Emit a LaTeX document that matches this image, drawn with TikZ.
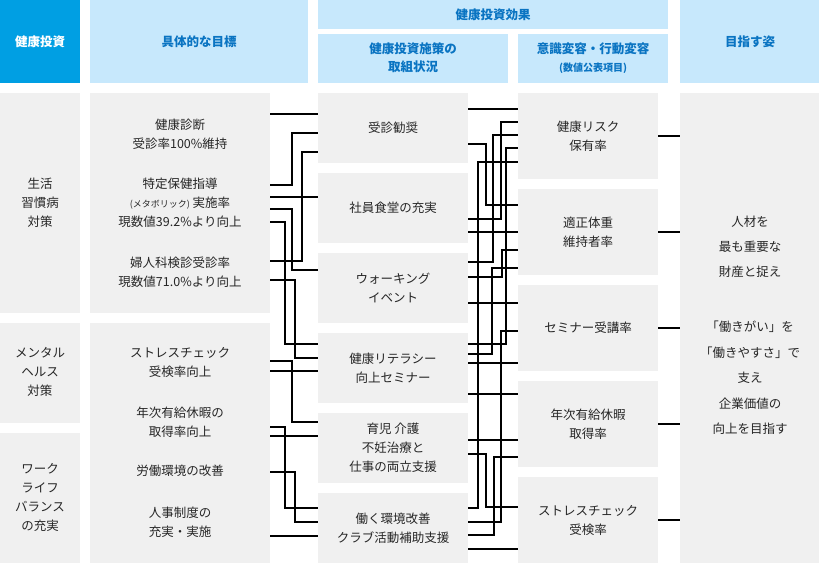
\documentclass[tikz,border=0pt]{standalone}
\usepackage{fontspec}
\setmainfont{Noto Sans CJK JP}
\usetikzlibrary{positioning}
\definecolor{hdark}{HTML}{009FE3}
\definecolor{hlight}{HTML}{C7E8FC}
\definecolor{htext}{HTML}{0A74C2}
\definecolor{cellgray}{HTML}{F0F0F0}
\tikzset{
  cell/.style={fill=cellgray,draw=none},
  head/.style={fill=hlight,draw=none},
  htxt/.style={text=htext,font=\fontsize{12.5}{18}\selectfont\bfseries,align=center},
  txt/.style={font=\fontsize{12.5}{19}\selectfont,align=center,text=black!85},
  link/.style={line width=1.3pt,black}
}
\newcommand\linkL[3]{\draw[link] (270,#1) -| (#2,#3) -- (318,#3);}
\newcommand\linkR[3]{\draw[link] (468,#1) -| (#2,#3) -- (518,#3);}
\begin{document}
\begin{tikzpicture}[x=1pt,y=-1pt]
    \useasboundingbox (0,0) rectangle (819,563);
    % Kopfzeile
    \fill[hdark] (0,0) rectangle (80,83);
    \fill[head] (90,0) rectangle (308,83);
    \fill[head] (318,0) rectangle (668,29);
    \fill[head] (318,34) rectangle (508,83);
    \fill[head] (518,34) rectangle (668,83);
    \fill[head] (680,0) rectangle (819,83);
    \node[htxt,text=white] (h1) at (40,42) {健康投資};
    \node[htxt] (h2) at (199,42) {具体的な目標};
    \node[htxt] (h3) at (493,15) {健康投資効果};
    \node[htxt] (h3a) at (413,58) {健康投資施策の\\取組状況};
    \node[htxt] (h3b) at (593,58) {意識変容・行動変容\\{\fontsize{10}{12}\selectfont (数値公表項目)}};
    \node[htxt] (h4) at (750,42) {目指す姿};

    % Spalte 1
    \fill[cell] (0,93) rectangle (80,313);
    \fill[cell] (0,323) rectangle (80,423);
    \fill[cell] (0,433) rectangle (80,563);
    \node[txt] (c1a) at (40,203) {生活\\習慣病\\対策};
    \node[txt] (c1b) at (40,372) {メンタル\\ヘルス\\対策};
    \node[txt] (c1c) at (40,497) {ワーク\\ライフ\\バランス\\の充実};

    % Spalte 2
    \fill[cell] (90,93) rectangle (270,313);
    \fill[cell] (90,323) rectangle (270,563);
    \node[txt] (g1) at (180,134) {健康診断\\受診率100\%維持};
    \node[txt] (g2) at (180,203) {特定保健指導\\{\fontsize{9}{10}\selectfont (メタボリック)} 実施率\\現数値39.2\%より向上};
    \node[txt] (g3) at (180,272) {婦人科検診受診率\\現数値71.0\%より向上};
    \node[txt] (g4) at (180,362) {ストレスチェック\\受検率向上};
    \node[txt] (g5) at (180,422) {年次有給休暇の\\取得率向上};
    \node[txt] (g6) at (180,471) {労働環境の改善};
    \node[txt] (g7) at (180,522) {人事制度の\\充実・実施};

    % Spalte 3
    \foreach \n/\y in {1/93,2/173,3/253,4/333,5/413,6/493}
      \fill[cell] (318,\y) rectangle (468,\y+70);
    \node[txt] (a1) at (393,128) {受診勧奨};
    \node[txt] (a2) at (393,208) {社員食堂の充実};
    \node[txt] (a3) at (393,288) {ウォーキング\\イベント};
    \node[txt] (a4) at (393,368) {健康リテラシー\\向上セミナー};
    \node[txt] (a5) at (393,448) {育児 介護\\不妊治療と\\仕事の両立支援};
    \node[txt] (a6) at (393,528) {働く環境改善\\クラブ活動補助支援};

    % Spalte 4
    \foreach \n/\y in {1/93,2/189,3/285,4/381,5/477}
      \fill[cell] (518,\y) rectangle (658,\y+86);
    \node[txt] (e1) at (588,136) {健康リスク\\保有率};
    \node[txt] (e2) at (588,232) {適正体重\\維持者率};
    \node[txt] (e3) at (588,328) {セミナー受講率};
    \node[txt] (e4) at (588,424) {年次有給休暇\\取得率};
    \node[txt] (e5) at (588,520) {ストレスチェック\\受検率};

    % Spalte 5
    \fill[cell] (680,93) rectangle (819,563);
    \node[txt,font=\fontsize{12.5}{25}\selectfont] (z1) at (750,247) {人材を\\最も重要な\\財産と捉え};
    \node[txt,font=\fontsize{12.5}{25.5}\selectfont] (z2) at (750,378) {「働きがい」を\\「働きやすさ」で\\支え\\企業価値の\\向上を目指す};

    % Verbindungen links
    \draw[link] (270,114) -- (318,114);
    \draw[link] (270,197) -- (318,197);
    \draw[link] (270,371) -- (318,371);
    \draw[link] (270,436) -- (318,436);
    \draw[link] (270,536) -- (318,536);
    \linkL{185}{292}{133}
    \linkL{261}{302}{152}
    \linkL{209}{292}{270}
    \linkL{222}{285}{344}
    \linkL{280}{295}{358}
    \linkL{361}{292}{422}
    \linkL{427}{285}{508}
    \linkL{472}{295}{522}

    % Verbindungen Mitte
    \foreach \y in {109,232,303,363,394,440,549}
      \draw[link] (468,\y) -- (518,\y);
    \linkR{219}{501}{122}
    \linkR{262}{493}{135}
    \linkR{144}{486}{205}
    \linkR{344}{506}{148}
    \linkR{508}{478}{162}
    \linkR{277}{502}{250}
    \linkR{354}{492}{268}
    \linkR{522}{501}{331}
    \linkR{454}{486}{507}
    \linkR{535}{494}{457}

    % Verbindungen rechts
    \foreach \y in {136,232,328,424,520}
      \draw[link] (658,\y) -- (680,\y);
\end{tikzpicture}
\end{document}
